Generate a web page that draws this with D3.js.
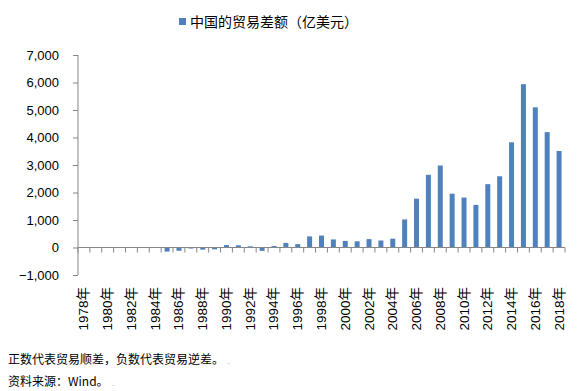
<!DOCTYPE html>
<html><head><meta charset="utf-8">
<script src="https://cdn.jsdelivr.net/npm/d3@7"></script>
<style>body{margin:0;background:#fff}</style>
</head><body>
<svg id="c" width="578" height="391"></svg>
<script>
const years = d3.range(1978, 2019).map(String);
const balance = [-11.4,-20.1,-19,-15,5,8.4,-12.7,-149,-119.7,-37.7,-77.5,-66,87.4,80.5,43.5,-122.2,54,167,122.2,404.2,434.7,292.3,241.1,225.5,304.3,254.7,320.9,1020,1775,2643,2981,1957,1815,1549,2303,2590,3825,5939,5097,4196,3509];
const yTicks = [-1000,0,1000,2000,3000,4000,5000,6000,7000];
const legendLabel = "中国的贸易差额（亿美元）";
const notes = ["正数代表贸易顺差，负数代表贸易逆差。","资料来源：Wind。"];

const svg = d3.select("#c");
const x = d3.scaleBand().domain(years).range([78, 565]).paddingInner(0.58).paddingOuter(0.29);
const y = d3.scaleLinear().domain([-1000, 7000]).range([275, 55]);
const font = "Arial, 'Liberation Sans', 'Noto Sans CJK SC', sans-serif";

// y axis
const ya = svg.append("g").attr("transform","translate(78,0)")
  .call(d3.axisLeft(y).tickValues(yTicks).tickSize(5).tickPadding(14).tickFormat(d3.format(",")));
ya.select(".domain").attr("stroke","#868686").attr("d","M0,"+y(-1000)+"V"+y(7000));
ya.selectAll(".tick line").attr("stroke","#868686");
ya.selectAll(".tick text").attr("font-family",font).attr("font-size",13).attr("fill","#000");

// bars
svg.append("g").selectAll("rect").data(balance).join("rect")
  .attr("x",(d,i)=>x(years[i]))
  .attr("width",x.bandwidth())
  .attr("y",d=>y(Math.max(0,d)))
  .attr("height",d=>Math.abs(y(d)-y(0)))
  .attr("fill","#4F81BD");

// x axis at zero
const step = x.step();
const xa = svg.append("g").attr("transform","translate(0,"+y(0)+")");
xa.append("line").attr("x1",78).attr("x2",565).attr("stroke","#868686");
xa.selectAll("line.t").data(d3.range(years.length+1)).join("line").attr("class","t")
  .attr("x1",i=>78+i*step).attr("x2",i=>78+i*step).attr("y1",0).attr("y2",5).attr("stroke","#868686");

// x labels
svg.append("g").selectAll("text").data(years.filter((d,i)=>i%2===0)).join("text")
  .attr("transform",d=>"translate("+(x(d)+x.bandwidth()/2+4.5)+",287) rotate(-90)")
  .attr("text-anchor","end")
  .attr("font-family",font).attr("font-size",13.5).attr("fill","#000")
  .text(d=>d+"年");

// legend
svg.append("rect").attr("x",179).attr("y",18).attr("width",7).attr("height",7).attr("fill","#4F81BD");
svg.append("text").attr("x",190).attr("y",27).attr("font-family",font).attr("font-size",14).attr("fill","#000").text(legendLabel);

// notes
notes.forEach((t,i)=>{
  const g = svg.append("text").attr("x",8).attr("y",364+i*22).attr("font-family","'Noto Sans CJK SC', sans-serif").attr("font-size",12).attr("fill","#000");
  g.append("tspan").text(t);
  g.append("tspan").attr("font-size",6).attr("fill","#999").attr("dx",3).text("..");
});
</script>
</body></html>
